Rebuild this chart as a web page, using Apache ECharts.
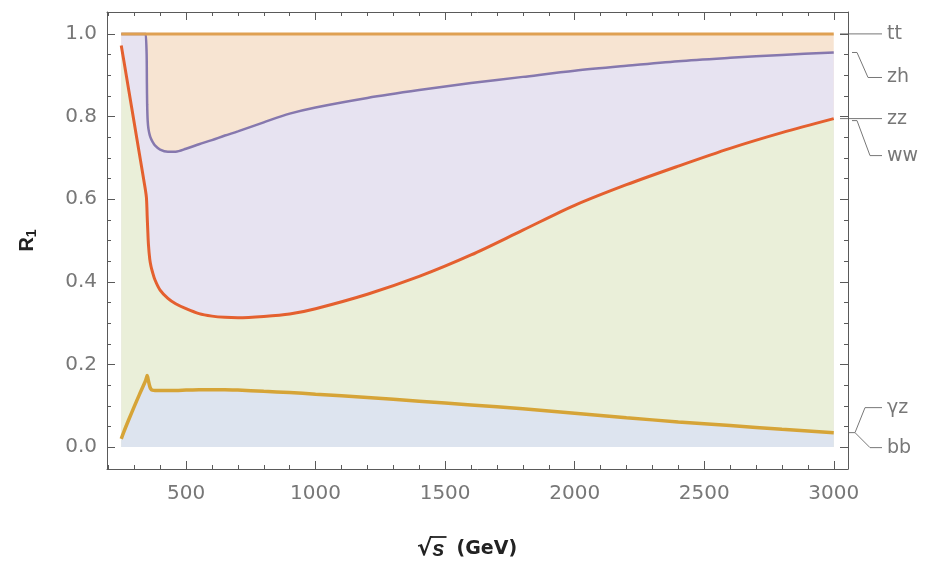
<!DOCTYPE html>
<html>
<head>
<meta charset="utf-8">
<script src="https://cdn.jsdelivr.net/npm/echarts@6.0.0/dist/echarts.min.js"></script>
<style>
  html, body { margin: 0; padding: 0; background: #fff; }
  #chart { width: 926px; height: 567px; }
</style>
</head>
<body>
<div id="chart"></div>
<script>
  // sqrt(s) in GeV
  const sqrtS = [250, 260, 280, 300, 320, 340, 345, 347, 348, 349, 350, 352, 355, 360, 365, 370,
    380, 400, 430, 460, 500, 550, 600, 650, 700, 800, 900, 1000,
    1200, 1400, 1600, 1800, 2000, 2200, 2400, 2600, 2800, 3000]

  // cumulative R1 at the top of each channel
  const yzTop = [0.020, 0.037, 0.068, 0.098, 0.127, 0.155, 0.163, 0.167, 0.169, 0.171, 0.173, 0.169, 0.160, 0.147, 0.140, 0.138,
    0.137, 0.137, 0.137, 0.137, 0.138, 0.139, 0.139, 0.139, 0.138, 0.135, 0.132, 0.128,
    0.120, 0.111, 0.102, 0.093, 0.082, 0.071, 0.061, 0.052, 0.043, 0.035]
  const zzTop = [0.972, 0.935, 0.860, 0.785, 0.710, 0.635, 0.615, 0.605, 0.595, 0.580, 0.560, 0.530, 0.490, 0.455, 0.437, 0.425,
    0.405, 0.380, 0.360, 0.347, 0.335, 0.323, 0.317, 0.314, 0.313, 0.316, 0.322, 0.335,
    0.370, 0.413, 0.465, 0.525, 0.585, 0.635, 0.680, 0.723, 0.761, 0.795]
  const zhTop = [1, 1, 1, 1, 1, 1, 1, 1, 0.950, 0.880, 0.830, 0.790, 0.770, 0.755, 0.746, 0.740,
    0.730, 0.720, 0.715, 0.715, 0.722, 0.733, 0.743, 0.754, 0.764, 0.786, 0.807, 0.822,
    0.845, 0.864, 0.881, 0.896, 0.911, 0.923, 0.934, 0.942, 0.949, 0.955]
  const ttTop = [1, 1, 1, 1, 1, 1, 1, 1, 1, 1, 1, 1, 1, 1, 1, 1,
    1, 1, 1, 1, 1, 1, 1, 1, 1, 1, 1, 1,
    1, 1, 1, 1, 1, 1, 1, 1, 1, 1]

  const xMajor = [500, 1000, 1500, 2000, 2500, 3000]
  const xMinor = [200, 300, 400, 600, 700, 800, 900, 1100, 1200, 1300, 1400, 1600, 1700, 1800, 1900,
    2100, 2200, 2300, 2400, 2600, 2700, 2800, 2900, 3000]
  const yMajor = [0, 0.2, 0.4, 0.6, 0.8, 1.0]
  const yMinor = [0.05, 0.1, 0.15, 0.25, 0.3, 0.35, 0.45, 0.5, 0.55, 0.65, 0.7, 0.75, 0.85, 0.9, 0.95]

  const pts = arr => sqrtS.map((x, i) => [x, arr[i]])

  const axisColor = '#5a5a5a'
  const labelColor = '#777'
  const font = 'DejaVu Sans'

  const chart = echarts.init(document.getElementById('chart'))

  const xAx = (pos, ticks, len, withLine, withLabel) => ({
    type: 'value', min: 195, max: 3055, position: pos, gridIndex: 0,
    axisLine: { show: withLine, onZero: false, lineStyle: { color: axisColor, width: 1 } },
    axisTick: { show: true, inside: true, length: len, customValues: ticks, lineStyle: { color: axisColor } },
    axisLabel: { show: withLabel, customValues: ticks, color: labelColor, fontSize: 20, fontFamily: font, margin: 15,
      formatter: v => String(v) },
    splitLine: { show: false }
  })
  const yAx = (pos, ticks, len, withLine, withLabel) => ({
    type: 'value', min: -0.053, max: 1.053, position: pos, gridIndex: 0,
    axisLine: { show: withLine, onZero: false, lineStyle: { color: axisColor, width: 1 } },
    axisTick: { show: true, inside: true, length: len, customValues: ticks, lineStyle: { color: axisColor } },
    axisLabel: { show: withLabel, customValues: ticks, color: labelColor, fontSize: 20, fontFamily: font, margin: 10,
      formatter: v => v.toFixed(1) },
    splitLine: { show: false }
  })

  const yMain = yAx('left', yMajor, 8, true, true)
  yMain.name = '{r|R}{s|1}'
  yMain.nameLocation = 'middle'
  yMain.nameRotate = 90
  yMain.nameGap = 68
  yMain.nameTextStyle = {
    rich: {
      r: { fontSize: 20, fontWeight: 'bold', color: '#222', fontFamily: 'Liberation Sans' },
      s: { fontSize: 14, fontWeight: 'bold', color: '#222', fontFamily: 'Liberation Sans', padding: [9, 0, 0, 0] }
    }
  }

  const areaSeries = (name, arr, fill) => ({
    name, type: 'line', data: pts(arr), showSymbol: false, smooth: 0.3,
    lineStyle: { width: 0 }, areaStyle: { color: fill, opacity: 1 }, z: 1, silent: true
  })
  const lineSeries = (name, arr, color, w) => ({
    name, type: 'line', data: pts(arr), showSymbol: false, smooth: 0.3,
    lineStyle: { color, width: w }, z: 3, silent: true
  })

  const option = {
    animation: false,
    grid: { left: 107, right: 78, top: 12, bottom: 98 },
    xAxis: [
      xAx('bottom', xMajor, 8, true, true),
      xAx('bottom', xMinor, 4, false, false),
      xAx('top', xMajor, 8, true, false),
      xAx('top', xMinor, 4, false, false)
    ],
    yAxis: [
      yMain,
      yAx('left', yMinor, 4, false, false),
      yAx('right', yMajor, 8, true, false),
      yAx('right', yMinor, 4, false, false)
    ],
    series: [
      areaSeries('tt', ttTop, '#f7e4d2'),
      areaSeries('zh', zhTop, '#e7e3f1'),
      areaSeries('zz', zzTop, '#eaefd9'),
      areaSeries('γz', yzTop, '#dde4ef'),
      lineSeries('zh', zhTop, '#8678ae', 2.5),
      lineSeries('zz', zzTop, '#e4602f', 3),
      lineSeries('γz', yzTop, '#d6a437', 3.5),
      lineSeries('tt', ttTop, '#dfa052', 3)
    ]
  }
  option && chart.setOption(option)

  // callout labels on the right side, x-axis title with a radical
  const last = sqrtS.length - 1
  const py = v => chart.convertToPixel({ xAxisIndex: 0, yAxisIndex: 0 }, [3000, v])[1]
  const fr = chart.getWidth() - 78
  const lc = { stroke: '#777', lineWidth: 1, fill: null }
  const txt = (t, y) => ({ type: 'text', style: { text: t, x: fr + 39, y, fill: '#777', fontSize: 19, fontFamily: font, verticalAlign: 'middle' } })
  const pl = p => ({ type: 'polyline', shape: { points: p }, style: lc })

  const ctx = document.createElement('canvas').getContext('2d')
  const w = (t, f) => { ctx.font = f; return ctx.measureText(t).width }
  const fRoot = 'bold 23px "DejaVu Sans"'
  const fS = 'italic bold 22px "Liberation Sans"'
  const fGev = 'bold 19px "DejaVu Sans"'
  const wRoot = w('√', fRoot), wS = w('s', fS), wGap = 12, wGev = w('(GeV)', fGev)
  const total = wRoot + wS + wGap + wGev
  const cx = 467, ty = 548
  const x0 = cx - total / 2

  const aTt = py(ttTop[last]), aZh = py(zhTop[last]), aZz = py(zzTop[last]), aYz = py(yzTop[last])
  chart.setOption({
    graphic: [
      pl([[fr - 8, aTt], [fr + 34, aTt]]), txt('tt', aTt),
      pl([[fr + 4, aZh], [fr + 9, aZh], [fr + 20, aZh + 25], [fr + 34, aZh + 25]]), txt('zh', aZh + 25),
      pl([[fr - 8, aZz], [fr + 34, aZz]]), txt('zz', aZz),
      pl([[fr + 4, aZz + 2], [fr + 9, aZz + 2], [fr + 22, aZz + 37], [fr + 34, aZz + 37]]), txt('ww', aZz + 37),
      pl([[fr, aYz], [fr + 7, aYz], [fr + 17, aYz - 25], [fr + 34, aYz - 25]]), txt('γz', aYz - 25),
      pl([[fr + 7, aYz], [fr + 22, aYz + 15], [fr + 34, aYz + 15]]), txt('bb', aYz + 15),
      { type: 'text', style: { text: '√', x: x0, y: ty + 1, font: fRoot, fill: '#222', verticalAlign: 'middle' } },
      { type: 'text', style: { text: 's', x: x0 + wRoot, y: ty + 2, font: fS, fill: '#222', verticalAlign: 'middle' } },
      { type: 'line', shape: { x1: x0 + wRoot - 1, y1: ty - 11, x2: x0 + wRoot + wS + 2, y2: ty - 11 }, style: { stroke: '#222', lineWidth: 1.8 } },
      { type: 'text', style: { text: '(GeV)', x: x0 + wRoot + wS + wGap, y: ty + 1, font: fGev, fill: '#222', verticalAlign: 'middle' } }
    ]
  })
</script>
</body>
</html>
